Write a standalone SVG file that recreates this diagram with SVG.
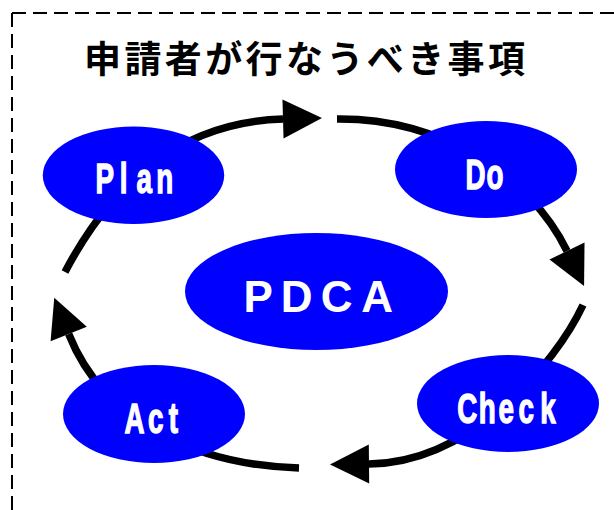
<svg xmlns="http://www.w3.org/2000/svg" width="614" height="510" viewBox="0 0 614 510">
  <defs>
    <style>
      .border { fill: none; stroke: #000; stroke-width: 2; stroke-dasharray: 14 7; }
      .title { font-family: "Noto Sans CJK JP", "Noto Sans", sans-serif; font-weight: bold; font-size: 37px; letter-spacing: 3.4px; fill: #000; }
      .node { fill: #0000FF; }
      .lbl { font-family: "Liberation Sans", Arial, sans-serif; font-weight: bold; font-size: 42px; fill: #fff; stroke: #fff; stroke-width: 1.4; text-anchor: middle; }
      .big { font-family: "Liberation Sans", Arial, sans-serif; font-weight: bold; font-size: 44px; fill: #fff; text-anchor: middle; }
      .arc { fill: none; stroke: #000; stroke-width: 7.5; marker-end: url(#arrow); }
    </style>
    <marker id="arrow" markerUnits="userSpaceOnUse" markerWidth="42" markerHeight="42" viewBox="-2 -21 42 42" refX="-1" refY="0" orient="auto">
      <path d="M-1,-19.5 L38,0 L-1,19.5 Z" fill="#000"/>
    </marker>
  </defs>

  <g id="frame">
    <path class="border" d="M12,13 H614"/>
    <path class="border" d="M12,13 V510"/>
  </g>

  <g id="title">
    <text class="title" x="84" y="73">申請者が行なうべき事項</text>
  </g>

  <g id="connectors">
    <path class="arc" d="M65,272 C108,190 175,122 283,119"/>
    <path class="arc" d="M337,119 C440,118 530,175 567,251"/>
    <path class="arc" d="M583,305 C555,365 470,463 369,464"/>
    <path class="arc" d="M299,468 C200,465 105,425 68.7,334"/>
  </g>

  <g id="node-plan">
    <ellipse class="node" cx="133.5" cy="175.3" rx="90.7" ry="48.7"/>
    <text class="lbl" transform="scale(0.66,1)" x="158.8 187.1 218.5 249.7" y="193.3">Plan</text>
  </g>
  <g id="node-do">
    <ellipse class="node" cx="486" cy="169.5" rx="91" ry="48.5"/>
    <text class="lbl" transform="scale(0.66,1)" x="720.5 750" y="189.3">Do</text>
  </g>
  <g id="node-check">
    <ellipse class="node" cx="508" cy="403.5" rx="91" ry="48.5"/>
    <text class="lbl" transform="scale(0.66,1)" x="707.9 738.2 767.1 797.4 830.3" y="422.8">Check</text>
  </g>
  <g id="node-act">
    <ellipse class="node" cx="154" cy="414" rx="91" ry="49"/>
    <text class="lbl" transform="scale(0.66,1)" x="203.8 236.1 262.6" y="432.7">Act</text>
  </g>
  <g id="node-pdca">
    <ellipse class="node" cx="316.5" cy="291.5" rx="131.5" ry="58.5"/>
    <text class="big" x="258.3 296.7 336.7 377.2" y="311.5">PDCA</text>
  </g>
</svg>
